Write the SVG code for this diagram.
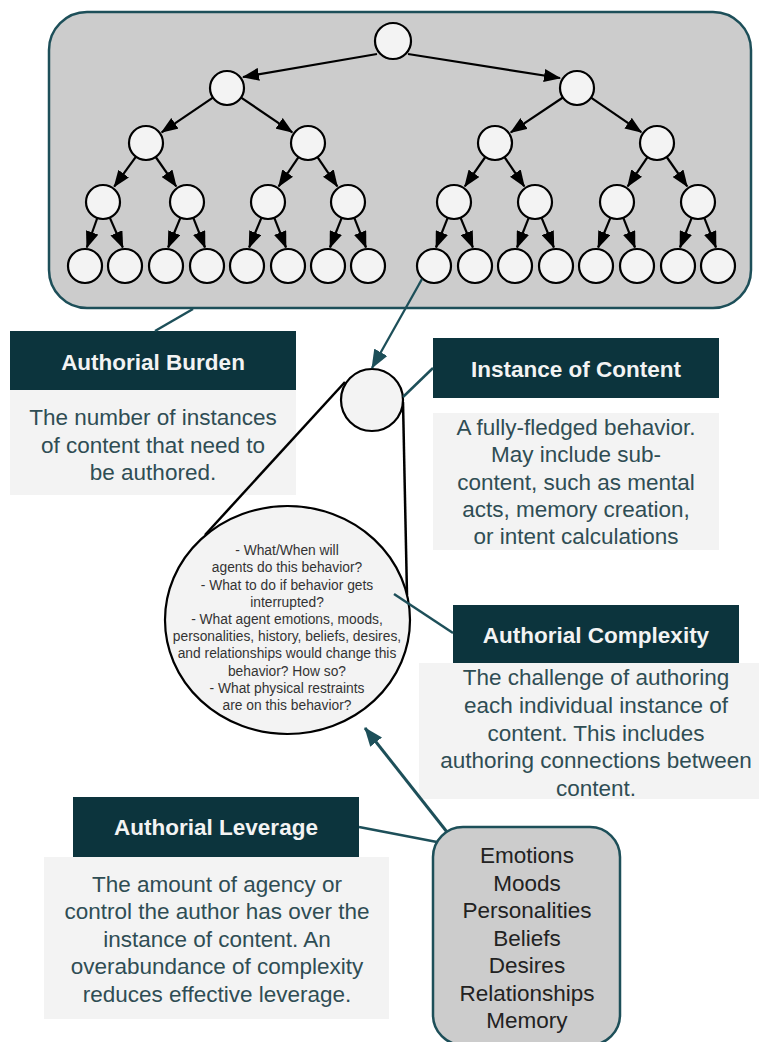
<svg xmlns="http://www.w3.org/2000/svg" width="759" height="1042" viewBox="0 0 759 1042">
  <style>
    .frame { fill: #cccccc; stroke: #1d4f59; stroke-width: 2.5; }
    .node { fill: #f3f3f3; stroke: #000; stroke-width: 2.2; }
    .edge { stroke: #000; stroke-width: 2.2; fill: none; marker-end: url(#ah); }
    .link { stroke: #1d4f59; stroke-width: 2.5; fill: none; }
    .tarrow { stroke: #1d4f59; fill: none; marker-end: url(#ah-teal); }
    .lens { stroke: #000; stroke-width: 2.5; fill: none; }
    .hdr { fill: #0c343d; }
    .body { fill: #f3f3f3; }
    text { font-family: "Liberation Sans", Arial, sans-serif; text-anchor: middle; }
    .ht { font-weight: bold; font-size: 22.5px; fill: #f3f3f3; }
    .bt { font-size: 22.5px; fill: #2f4d54; }
    .qt { font-size: 13.8px; fill: #333; }
    .lt { font-size: 22.5px; fill: #222; }
  </style>
  <defs>
    <marker id="ah" markerUnits="userSpaceOnUse" viewBox="0 0 17 13" markerWidth="17" markerHeight="13" refX="16" refY="6.5" orient="auto">
      <path d="M0,0 L17,6.5 L0,13 z" fill="#000"/>
    </marker>
    <marker id="ah-teal" markerUnits="userSpaceOnUse" viewBox="0 0 19 15" markerWidth="19" markerHeight="15" refX="18" refY="7.5" orient="auto">
      <path d="M0,0 L19,7.5 L0,15 z" fill="#1d4f59"/>
    </marker>
  </defs>

  <!-- content tree container -->
  <g id="tree-frame">
    <rect class="frame" x="49" y="12" width="702" height="296" rx="38"/>
  </g>

  <!-- tree edges -->
  <g id="tree-edges">
    <line class="edge" x1="377" y1="54" x2="243" y2="77"/>
    <line class="edge" x1="408" y1="54" x2="560" y2="78"/>

    <line class="edge" x1="212.9" y1="97.6" x2="161.7" y2="132.3"/>
    <line class="edge" x1="241.1" y1="97.6" x2="292.3" y2="132.3"/>
    <line class="edge" x1="562.9" y1="97.5" x2="510.8" y2="132.4"/>
    <line class="edge" x1="591" y1="97.6" x2="641.3" y2="132.2"/>

    <line class="edge" x1="136" y1="156.7" x2="114.2" y2="186.6"/>
    <line class="edge" x1="155.7" y1="157" x2="176.2" y2="186.4"/>
    <line class="edge" x1="298.5" y1="157.1" x2="278.7" y2="186.3"/>
    <line class="edge" x1="317.5" y1="157.1" x2="337.3" y2="186.3"/>
    <line class="edge" x1="485.3" y1="157" x2="464.8" y2="186.4"/>
    <line class="edge" x1="504.5" y1="157.1" x2="524.3" y2="186.3"/>
    <line class="edge" x1="647.5" y1="157.1" x2="627.7" y2="186.3"/>
    <line class="edge" x1="666.7" y1="157" x2="687.2" y2="186.4"/>

    <line class="edge" x1="97.3" y1="218" x2="86.8" y2="247.5"/>
    <line class="edge" x1="109.8" y1="217.6" x2="122.8" y2="247.5"/>
    <line class="edge" x1="180.5" y1="217.7" x2="168.1" y2="247.5"/>
    <line class="edge" x1="193.3" y1="217.8" x2="205" y2="247.5"/>
    <line class="edge" x1="261.5" y1="217.7" x2="249.1" y2="247.5"/>
    <line class="edge" x1="274.3" y1="217.8" x2="286" y2="247.5"/>
    <line class="edge" x1="341.7" y1="217.8" x2="330" y2="247.5"/>
    <line class="edge" x1="354.3" y1="217.8" x2="366" y2="247.5"/>
    <line class="edge" x1="447.7" y1="217.8" x2="436" y2="247.5"/>
    <line class="edge" x1="460.5" y1="217.7" x2="472.9" y2="247.5"/>
    <line class="edge" x1="528.7" y1="217.8" x2="517" y2="247.5"/>
    <line class="edge" x1="541.5" y1="217.7" x2="553.9" y2="247.5"/>
    <line class="edge" x1="610.5" y1="217.7" x2="598.1" y2="247.5"/>
    <line class="edge" x1="623.3" y1="217.8" x2="635" y2="247.5"/>
    <line class="edge" x1="691.7" y1="217.8" x2="680" y2="247.5"/>
    <line class="edge" x1="704.3" y1="217.8" x2="716" y2="247.5"/>
  </g>

  <!-- tree nodes -->
  <g id="tree-nodes">
    <circle class="node" cx="393" cy="41" r="18"/>
    <circle class="node" cx="227" cy="88" r="17"/>
    <circle class="node" cx="577" cy="88" r="17"/>
    <circle class="node" cx="146" cy="143" r="17"/>
    <circle class="node" cx="308" cy="143" r="17"/>
    <circle class="node" cx="495" cy="143" r="17"/>
    <circle class="node" cx="657" cy="143" r="17"/>
    <circle class="node" cx="103" cy="202" r="17"/>
    <circle class="node" cx="187" cy="202" r="17"/>
    <circle class="node" cx="268" cy="202" r="17"/>
    <circle class="node" cx="348" cy="202" r="17"/>
    <circle class="node" cx="454" cy="202" r="17"/>
    <circle class="node" cx="535" cy="202" r="17"/>
    <circle class="node" cx="617" cy="202" r="17"/>
    <circle class="node" cx="698" cy="202" r="17"/>
    <circle class="node" cx="85" cy="266" r="17"/>
    <circle class="node" cx="125" cy="266" r="17"/>
    <circle class="node" cx="166" cy="266" r="17"/>
    <circle class="node" cx="207" cy="266" r="17"/>
    <circle class="node" cx="247" cy="266" r="17"/>
    <circle class="node" cx="288" cy="266" r="17"/>
    <circle class="node" cx="328" cy="266" r="17"/>
    <circle class="node" cx="368" cy="266" r="17"/>
    <circle class="node" cx="434" cy="266" r="17"/>
    <circle class="node" cx="475" cy="266" r="17"/>
    <circle class="node" cx="515" cy="266" r="17"/>
    <circle class="node" cx="556" cy="266" r="17"/>
    <circle class="node" cx="596" cy="266" r="17"/>
    <circle class="node" cx="637" cy="266" r="17"/>
    <circle class="node" cx="678" cy="266" r="17"/>
    <circle class="node" cx="718" cy="266" r="17"/>
  </g>

  <!-- Authorial Burden -->
  <g id="burden">
    <rect class="hdr" x="10" y="331" width="286" height="59"/>
    <rect class="body" x="10" y="390" width="286" height="105"/>
    <text class="ht" x="153" y="370">Authorial Burden</text>
    <text class="bt" x="153" y="425">The number of instances</text>
    <text class="bt" x="153" y="452.5">of content that need to</text>
    <text class="bt" x="153" y="480">be authored.</text>
  </g>

  <!-- Instance of Content -->
  <g id="instance">
    <rect class="hdr" x="433" y="338" width="286" height="60"/>
    <rect class="body" x="433" y="413" width="286" height="137"/>
    <text class="ht" x="576" y="377">Instance of Content</text>
    <text class="bt" x="576" y="435">A fully-fledged behavior.</text>
    <text class="bt" x="576" y="462">May include sub-</text>
    <text class="bt" x="576" y="489.5">content, such as mental</text>
    <text class="bt" x="576" y="517">acts, memory creation,</text>
    <text class="bt" x="576" y="544">or intent calculations</text>
  </g>

  <!-- Authorial Complexity -->
  <g id="complexity">
    <rect class="body" x="419" y="663" width="340" height="136"/>
    <rect class="hdr" x="453" y="605" width="286" height="58"/>
    <text class="ht" x="596" y="643">Authorial Complexity</text>
    <text class="bt" x="596" y="685">The challenge of authoring</text>
    <text class="bt" x="596" y="712.5">each individual instance of</text>
    <text class="bt" x="596" y="740.5">content. This includes</text>
    <text class="bt" x="596" y="768">authoring connections between</text>
    <text class="bt" x="596" y="795.5">content.</text>
  </g>

  <!-- Authorial Leverage -->
  <g id="leverage">
    <rect class="body" x="44" y="857" width="345" height="162"/>
    <rect class="hdr" x="73" y="797" width="286" height="60"/>
    <text class="ht" x="216" y="835">Authorial Leverage</text>
    <text class="bt" x="217" y="891.5">The amount of agency or</text>
    <text class="bt" x="217" y="919">control the author has over the</text>
    <text class="bt" x="217" y="946.5">instance of content. An</text>
    <text class="bt" x="217" y="974">overabundance of complexity</text>
    <text class="bt" x="217" y="1001.5">reduces effective leverage.</text>
  </g>

  <!-- magnifying lens outline -->
  <g id="lens">
    <line class="lens" x1="345" y1="382" x2="205" y2="535"/>
    <line class="lens" x1="403" y1="402" x2="407" y2="595"/>
  </g>

  <!-- single instance -->
  <g id="instance-node">
    <circle class="node" cx="372" cy="400" r="31" stroke-width="2.5"/>
  </g>

  <!-- magnified instance with its questions -->
  <g id="questions">
    <ellipse class="node" cx="287.5" cy="620" rx="122.5" ry="114" stroke-width="2.5"/>
    <text class="qt" x="287" y="555">- What/When will</text>
    <text class="qt" x="287" y="572">agents do this behavior?</text>
    <text class="qt" x="287" y="589.5">- What to do if behavior gets</text>
    <text class="qt" x="287" y="606.5">interrupted?</text>
    <text class="qt" x="287" y="624">- What agent emotions, moods,</text>
    <text class="qt" x="287" y="641">personalities, history, beliefs, desires,</text>
    <text class="qt" x="287" y="658">and relationships would change this</text>
    <text class="qt" x="287" y="675.5">behavior? How so?</text>
    <text class="qt" x="287" y="692.5">- What physical restraints</text>
    <text class="qt" x="287" y="709.5">are on this behavior?</text>
  </g>

  <!-- agent state -->
  <g id="agent-state">
    <rect x="433" y="827" width="187" height="218" rx="30" fill="#cccccc" stroke="#1d4f59" stroke-width="2.5"/>
    <text class="lt" x="527" y="863">Emotions</text>
    <text class="lt" x="527" y="891">Moods</text>
    <text class="lt" x="527" y="918">Personalities</text>
    <text class="lt" x="527" y="945.5">Beliefs</text>
    <text class="lt" x="527" y="973">Desires</text>
    <text class="lt" x="527" y="1000.5">Relationships</text>
    <text class="lt" x="527" y="1028">Memory</text>
  </g>

  <!-- connectors -->
  <g id="connectors">
    <line class="link" x1="193" y1="309" x2="155" y2="331"/>
    <line class="link" x1="403" y1="397" x2="433" y2="368"/>
    <line class="link" x1="394" y1="594" x2="453" y2="633"/>
    <line class="link" x1="359" y1="827" x2="437" y2="842"/>
    <line class="tarrow" stroke-width="2.3" x1="422" y1="279" x2="372" y2="368"/>
    <line class="tarrow" stroke-width="3" x1="447" y1="832" x2="365" y2="728"/>
  </g>
</svg>
